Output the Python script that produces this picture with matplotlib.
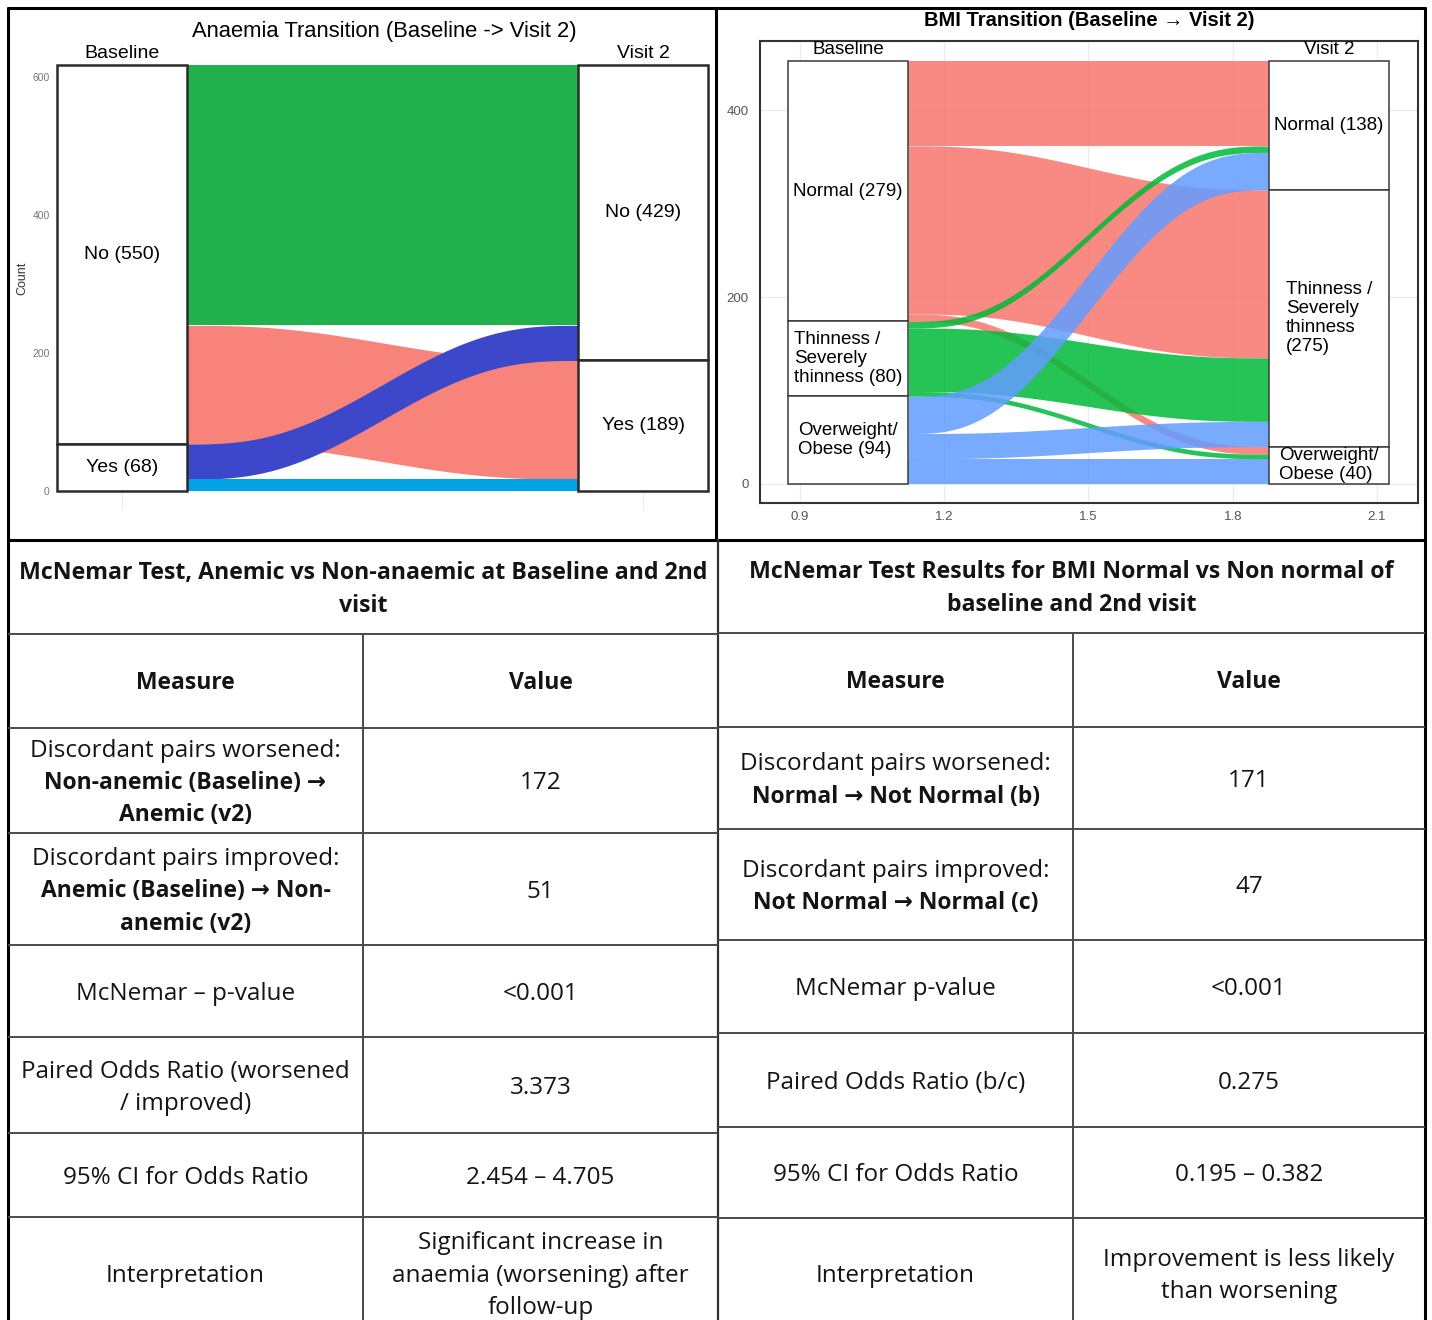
#!/usr/bin/env python3
"""
Anaemia and BMI transition plots (baseline -> visit 2) with the
McNemar test summary tables underneath.
"""

import numpy as np
import matplotlib
matplotlib.use("Agg")
import matplotlib.pyplot as plt
from matplotlib import font_manager
from matplotlib.patches import Rectangle

W, H, DPI = 1432, 1320, 100

# Anaemia status, rows = baseline, cols = visit 2 (No, Yes)
anaemia_levels = ["No", "Yes"]
anaemia_flows = [[378, 172],
                 [51, 17]]
anaemia_flow_colors = [["#23B14D", "#F8837A"],
                       ["#3D47C9", "#00A3E4"]]

# BMI category, rows = baseline, cols = visit 2
bmi_levels = ["Normal", "Thinness / Severely thinness", "Overweight/ Obese"]
bmi_flows = [[91, 180, 8],
             [7, 68, 5],
             [40, 27, 27]]
bmi_base_labels = ["Normal ({n})", "Thinness /\nSeverely\nthinness ({n})", "Overweight/\nObese ({n})"]
bmi_v2_labels = ["Normal ({n})", "Thinness /\nSeverely\nthinness\n({n})", "Overweight/\nObese ({n})"]
bmi_colors = ["#F8766D", "#00BA38", "#619CFF"]
bmi_xticks = [0.9, 1.2, 1.5, 1.8, 2.1]

# McNemar tables: each row is (measure lines, value lines), lines are (text, bold)
anaemia_table_title = ["McNemar Test, Anemic vs Non-anaemic at Baseline and 2nd", "visit"]
anaemia_table_rows = [
    ([("Discordant pairs worsened:", False), ("Non-anemic (Baseline) \u2192", True), ("Anemic (v2)", True)],
     [("172", False)]),
    ([("Discordant pairs improved:", False), ("Anemic (Baseline) \u2192 Non-", True), ("anemic (v2)", True)],
     [("51", False)]),
    ([("McNemar \u2013 p-value", False)], [("<0.001", False)]),
    ([("Paired Odds Ratio (worsened", False), ("/ improved)", False)], [("3.373", False)]),
    ([("95% CI for Odds Ratio", False)], [("2.454 \u2013 4.705", False)]),
    ([("Interpretation", False)],
     [("Significant increase in", False), ("anaemia (worsening) after", False), ("follow-up", False)]),
]

bmi_table_title = ["McNemar Test Results for BMI Normal vs Non normal of", "baseline and 2nd visit"]
bmi_table_rows = [
    ([("Discordant pairs worsened:", False), ("Normal \u2192 Not Normal (b)", True)], [("171", False)]),
    ([("Discordant pairs improved:", False), ("Not Normal \u2192 Normal (c)", True)], [("47", False)]),
    ([("McNemar p-value", False)], [("<0.001", False)]),
    ([("Paired Odds Ratio (b/c)", False)], [("0.275", False)]),
    ([("95% CI for Odds Ratio", False)], [("0.195 \u2013 0.382", False)]),
    ([("Interpretation", False)], [("Improvement is less likely", False), ("than worsening", False)]),
]

available = {f.name for f in font_manager.fontManager.ttflist}
if "Liberation Sans Narrow" in available:
    NARROW, NARROW_SIZE = ["Liberation Sans Narrow", "DejaVu Sans"], 16
else:
    NARROW, NARROW_SIZE = ["Liberation Sans", "DejaVu Sans"], 14
SANS = ["Liberation Sans", "DejaVu Sans"]
TABLE_FONT = ["Open Sans", "DejaVu Sans"]

plt.rcParams["font.family"] = SANS


def px_axes(fig, x0, y0, x1, y1):
    """Axes placed by pixel box (top-left origin)."""
    return fig.add_axes([x0 / W, 1 - y1 / H, (x1 - x0) / W, (y1 - y0) / H])


def smooth(t):
    return 6 * t ** 5 - 15 * t ** 4 + 10 * t ** 3


def alluvial(ax, flows, colors, alpha, box_lw, box_color, base_fmt, v2_fmt,
             font, size, header_font, header_size):
    flows = np.asarray(flows, dtype=float)
    total = flows.sum()
    base_n = flows.sum(axis=1)
    v2_n = flows.sum(axis=0)
    base_top = total - np.concatenate([[0], np.cumsum(base_n)[:-1]])
    v2_top = total - np.concatenate([[0], np.cumsum(v2_n)[:-1]])
    out_off = np.cumsum(flows, axis=1) - flows
    in_off = np.cumsum(flows, axis=0) - flows

    half = 0.125
    t = np.linspace(0, 1, 200)
    xs = (1 + half) + (2 - half - (1 + half)) * t
    for i in range(flows.shape[0]):
        for j in range(flows.shape[1]):
            w = flows[i, j]
            if w == 0:
                continue
            y0 = base_top[i] - out_off[i, j]
            y1 = v2_top[j] - in_off[i, j]
            top = y0 + (y1 - y0) * smooth(t)
            c = colors[i][j] if isinstance(colors[i], list) else colors[i]
            ax.fill_between(xs, top - w, top, color=c, alpha=alpha, lw=0, zorder=2)

    for x, tops, ns, fmts in [(1, base_top, base_n, base_fmt), (2, v2_top, v2_n, v2_fmt)]:
        for top, n, fmt in zip(tops, ns, fmts):
            ax.add_patch(Rectangle((x - half, top - n), 2 * half, n, facecolor="white",
                                   edgecolor=box_color, lw=box_lw, zorder=3))
            ax.text(x, top - n / 2, fmt.format(n=int(n)), ha="center", va="center",
                    multialignment="left", family=font, fontsize=size, zorder=4,
                    linespacing=1.15)

    ax.text(1, total * 1.026, "Baseline", ha="center", va="center",
            family=header_font, fontsize=header_size, zorder=4)
    ax.text(2, total * 1.026, "Visit 2", ha="center", va="center",
            family=header_font, fontsize=header_size, zorder=4)
    ax.set_ylim(-0.045 * total, 1.047 * total)
    return total


def cell_lines(ov, x, yc, lines, size, bold_size, spacing=32.5):
    n = len(lines)
    for k, (txt, bold) in enumerate(lines):
        fs = bold_size if bold else size
        y = yc + (k - (n - 1) / 2) * spacing + 0.36 * fs * DPI / 72
        ov.text(x, y, txt, ha="center", va="baseline", family=TABLE_FONT,
                fontsize=fs, fontweight="bold" if bold else "normal", color="#141414")


def draw_table(ov, cols, rows_y, title, rows):
    x0, xm, x1 = cols
    line = dict(color="#4a4a4a", lw=1.4, solid_capstyle="butt")
    for y in rows_y[1:-1]:
        ov.plot([x0, x1], [y, y], **line)
    ov.plot([xm, xm], [rows_y[1], rows_y[-1]], **line)

    cell_lines(ov, (x0 + x1) / 2, (rows_y[0] + rows_y[1]) / 2,
               [(t, True) for t in title], 16.7, 16.7, spacing=33)
    hy = (rows_y[1] + rows_y[2]) / 2
    cell_lines(ov, (x0 + xm) / 2, hy, [("Measure", True)], 16.5, 16.5)
    cell_lines(ov, (xm + x1) / 2, hy, [("Value", True)], 16.5, 16.5)
    for r, (measure, value) in enumerate(rows):
        yc = (rows_y[r + 2] + rows_y[r + 3]) / 2
        cell_lines(ov, (x0 + xm) / 2, yc, measure, 17.5, 16.5)
        cell_lines(ov, (xm + x1) / 2, yc, value, 17.5, 16.5)


fig = plt.figure(figsize=(W / DPI, H / DPI), dpi=DPI)
fig.patch.set_facecolor("white")

# ---------------- anaemia alluvial ----------------
ax_a = px_axes(fig, 54, 44.6, 716, 510)
total_a = alluvial(ax_a, anaemia_flows, anaemia_flow_colors, 1.0, 1.8, "#2b2b2b",
                   [lvl + " ({n})" for lvl in anaemia_levels],
                   [lvl + " ({n})" for lvl in anaemia_levels],
                   NARROW, NARROW_SIZE, NARROW, NARROW_SIZE)
ax_a.set_xlim(0.8695, 2.14)
for x in (1, 2):
    ax_a.axvline(x, color="#ececec", lw=0.8, zorder=0)
ax_a.set_xticks([])
ax_a.set_yticks([0, 200, 400, 600])
ax_a.tick_params(axis="y", length=0, pad=3, labelsize=7.5, labelcolor="#777777")
for lab in ax_a.get_yticklabels():
    lab.set_family(NARROW)
for s in ax_a.spines.values():
    s.set_visible(False)

# ---------------- BMI alluvial ----------------
ax_b = px_axes(fig, 760, 41, 1418, 503)
total_b = alluvial(ax_b, bmi_flows, bmi_colors, 0.85, 1.1, "#3a3a3a",
                   bmi_base_labels, bmi_v2_labels, SANS, 13.5, SANS, 13.5)
ax_b.set_xlim(0.8168, 2.1854)
ax_b.set_xticks(bmi_xticks)
ax_b.set_xticklabels([f"{v:.1f}" for v in bmi_xticks])
ax_b.set_yticks([0, 200, 400])
ax_b.grid(True, color="#ebebeb", lw=1.0, zorder=0)
ax_b.set_axisbelow(True)
ax_b.tick_params(length=0, labelsize=9.5, labelcolor="#555555")
ax_b.tick_params(axis="y", pad=8)
ax_b.tick_params(axis="x", pad=6)
for s in ax_b.spines.values():
    s.set_color("#333333")
    s.set_linewidth(1.5)

# ---------------- overlay: titles, frames, tables ----------------
ov = fig.add_axes([0, 0, 1, 1], zorder=10)
ov.set_xlim(0, W)
ov.set_ylim(H, 0)
ov.axis("off")
ov.patch.set_alpha(0)

ov.text(384, 32, "Anaemia Transition (Baseline -> Visit 2)", ha="center", va="center",
        family=NARROW, fontsize=15.8)
ov.text(22, 278, "Count", ha="center", va="center", rotation=90, fontsize=9, color="#333333")
ov.text(1089, 20, "BMI Transition (Baseline \u2192 Visit 2)", ha="center", va="center",
        fontsize=14.5, fontweight="bold")

frame = dict(color="black", lw=2.2, solid_capstyle="butt")
ov.plot([8, 8], [7, H], **frame)
ov.plot([7, 1426], [8, 8], **frame)
ov.plot([1425, 1425], [7, H], **frame)
ov.plot([716, 716], [8, 540], **frame)
ov.plot([8, 1426], [540, 540], **frame)
ov.plot([718, 718], [540, H], color="#333333", lw=1.6)

draw_table(ov, (8, 363, 718), [540, 634, 728, 833, 945, 1037, 1133, 1217, 1329],
           anaemia_table_title, anaemia_table_rows)
draw_table(ov, (718, 1073, 1425), [540, 633, 727, 829, 940, 1033, 1127, 1218, 1329],
           bmi_table_title, bmi_table_rows)

fig.savefig("out.png", dpi=DPI, facecolor="white")
